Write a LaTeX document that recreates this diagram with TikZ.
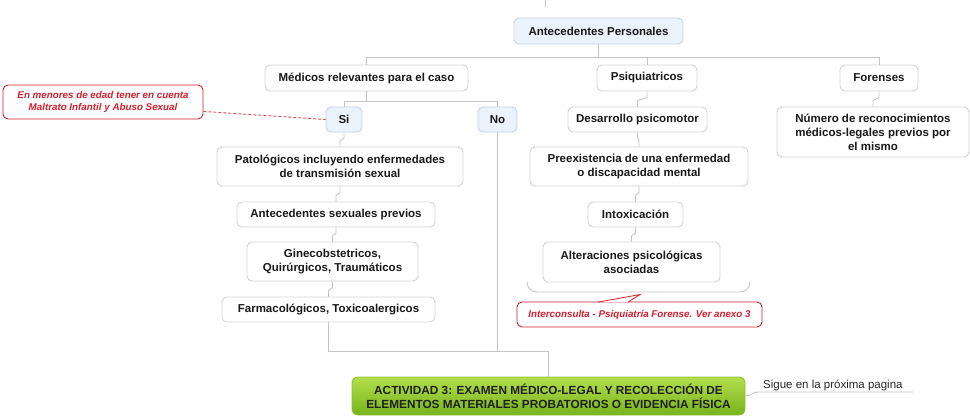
\documentclass[tikz,border=0pt]{standalone}
\usepackage{fontspec}
\setmainfont{Liberation Sans}
\usetikzlibrary{calc}
\definecolor{lin}{HTML}{C4C4C4}
\definecolor{bord}{HTML}{D2D2D2}
\definecolor{bluefill}{HTML}{EAF3FB}
\definecolor{blueb}{HTML}{C3D3E3}
\definecolor{rednote}{HTML}{D0202E}
\definecolor{gtop}{HTML}{B4DE4C}
\definecolor{gbot}{HTML}{76B41C}
\definecolor{gbord}{HTML}{8CC036}
\begin{document}
\begin{tikzpicture}[x=1pt,y=-1pt,
 sz/.style 2 args={minimum width=#1pt, minimum height=#2pt},
 topic/.style={draw=bord, line width=0.9pt, fill=white, rounded corners=5pt, inner sep=0pt, align=center, font=\fontsize{11.5}{14}\selectfont\bfseries, text=black!90},
 bluetopic/.style={topic, fill=bluefill, draw=blueb},
 note/.style={draw=rednote, line width=0.9pt, fill=white, rounded corners=5pt, inner sep=0pt, align=center, text=rednote, font=\fontsize{9.8}{11.5}\selectfont\bfseries\itshape},
 conn/.style={draw=lin, line width=0.9pt},
 jog/.style={to path={let \p1=(\tikztostart), \p2=(\tikztotarget) in -- (\x1,{(\y1+\y2)/2+1.5pt}) -- (\x2,{(\y1+\y2)/2-1.5pt}) -- (\p2)}},
 central/.style={draw=gbord, line width=0.9pt, top color=gtop, bottom color=gbot, rounded corners=6pt, inner sep=0pt, align=center, font=\fontsize{11.8}{14}\selectfont\bfseries, text=black!88}
]
\useasboundingbox (0,0) rectangle (970,420);

% nodes
\node[bluetopic, sz={169}{26}] (ant) at (598.5,31) {Antecedentes Personales};
\node[topic, sz={203}{26}] (med) at (366.5,78) {Médicos relevantes para el caso};
\node[topic, sz={100}{26}] (psi) at (647,78) {Psiquiatricos};
\node[topic, sz={78}{26}] (for) at (879,78) {Forenses};
\node[bluetopic, sz={36}{25}] (si) at (344,119.5) {Si};
\node[bluetopic, sz={39}{25}] (no) at (497.5,119.5) {No};
\node[topic, sz={139}{25}] (des) at (637.5,119.5) {Desarrollo psicomotor};
\node[topic, sz={192}{50}] (num) at (873,132) {Número de reconocimientos\\médicos-legales previos por\\el mismo};
\node[note, sz={200}{34}] (n1) at (103,102) {En menores de edad tener en cuenta\\Maltrato Infantil y Abuso Sexual};
\node[topic, sz={246}{39}] (pat) at (340,166.5) {Patológicos incluyendo enfermedades\\de transmisión sexual};
\node[topic, sz={198}{25}] (sex) at (336,214.5) {Antecedentes sexuales previos};
\node[topic, sz={171}{39}] (gin) at (332.5,261.5) {Ginecobstetricos,\\Quirúrgicos, Traumáticos};
\node[topic, sz={213}{25}] (far) at (328.5,309.5) {Farmacológicos, Toxicoalergicos};
\node[topic, sz={218}{39}] (pre) at (639,166.5) {Preexistencia de una enfermedad\\o discapacidad mental};
\node[topic, sz={95}{25}] (int) at (635.5,214.5) {Intoxicación};
\node[topic, sz={177}{40}] (alt) at (631.5,262) {Alteraciones psicológicas\\asociadas};
\node[note, sz={245}{25}] (ic) at (639.5,314.5) {Interconsulta - Psiquiatría Forense. Ver anexo 3};
\node[central, sz={393}{38}] (act) at (548.5,396) {ACTIVIDAD 3: EXAMEN MÉDICO-LEGAL Y RECOLECCIÓN DE\\ELEMENTOS MATERIALES PROBATORIOS O EVIDENCIA FÍSICA};
\node[anchor=base west, inner sep=0pt, font=\fontsize{11.5}{14}\selectfont, text=black!85] (sig) at (763,388) {Sigue en la próxima pagina};

% coordinates
\coordinate (top0) at (545,0);
\coordinate (top1) at (545,7);
\coordinate (j1) at (598.5,57);
\coordinate (j2) at (366.5,101);
\coordinate (j3) at (497.5,351);
\coordinate (j4) at (548.5,351);
\coordinate (s1) at (758,392);
\coordinate (s2) at (913,392);

% connectors
\draw[conn] (top0) -- (top1);
\draw[conn] (ant.south) -- (j1);
\draw[conn] (j1) -| (med.north);
\draw[conn] (j1) -| (psi.north);
\draw[conn] (j1) -| (for.north);
\draw[conn] (med.south) -- (j2);
\draw[conn] (j2) -| (si.north);
\draw[conn] (j2) -| (no.north);
\draw[conn] (si.south) to[jog] (pat.north);
\draw[conn] (pat.south) to[jog] (sex.north);
\draw[conn] (sex.south) to[jog] (gin.north);
\draw[conn] (gin.south) to[jog] (far.north);
\draw[conn] (psi.south) to[jog] (des.north);
\draw[conn] (des.south) to[jog] (pre.north);
\draw[conn] (pre.south) to[jog] (int.north);
\draw[conn] (int.south) to[jog] (alt.north);
\draw[conn] (for.south) to[jog] (num.north);
\draw[conn] (no.south) -- (j3);
\draw[conn] (far.south) |- (j4);
\draw[conn] (j4) -- (act.north);
\draw[conn] (act.east) to[out=0,in=180] (s1) -- (s2);

% note link
\draw[rednote!80, line width=0.9pt, dash pattern=on 3pt off 2pt] ($(n1.south east)+(0,-8)$) -- (si.west);

% boundary bottom
\coordinate (b1) at (527,282);
\coordinate (b2) at (750,282);
\draw[conn] (b1) to[out=-90,in=180] (537,292) -- (740,292) to[out=0,in=-90] (b2);

% callout pointer
\coordinate (tip) at (640,294.5);
\draw[rednote, line width=0.8pt, fill=white] ($(ic.north)+(-41.5,0.6)$) -- (tip) -- ($(ic.north)+(-11.5,0.6)$);
\end{tikzpicture}
\end{document}
